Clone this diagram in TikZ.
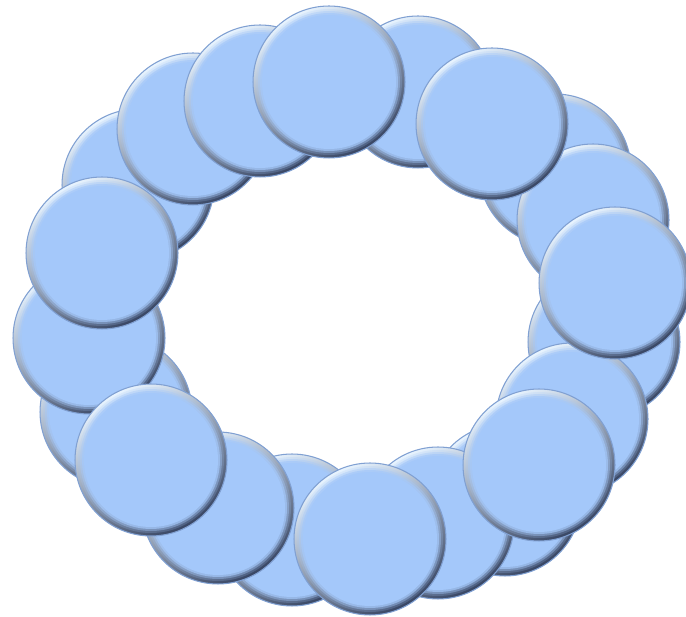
\documentclass[tikz,border=0pt]{standalone}
\usepackage{tikz}
\definecolor{beadface}{RGB}{164,200,250}
\definecolor{beadlight}{RGB}{232,244,255}
\definecolor{beadside}{RGB}{140,176,228}
\definecolor{beaddark}{RGB}{56,70,100}
\definecolor{beadedge}{RGB}{128,160,210}
\begin{document}
\begin{tikzpicture}[
    x=0.02cm, y=-0.02cm,
    bead/.style={circle, minimum size=3.04cm, inner sep=0pt,
      top color=beadlight, middle color=beadside, bottom color=beaddark,
      shading angle=30, draw=beadedge, line width=0.6pt,
      path picture={
        \fill[beadface, opacity=0.2] (path picture bounding box.center) circle (1.46cm);
        \fill[beadface, opacity=0.4] (path picture bounding box.center) circle (1.42cm);
        \fill[beadface, opacity=0.7] (path picture bounding box.center) circle (1.38cm);
        \fill[beadface] (path picture bounding box.center) circle (1.34cm);
      }},
  ]
  \useasboundingbox (0,0) rectangle (686,617);
  % ---------------- back beads
  \foreach \n/\x/\y in {b2/418/92, b4/555/170, b7/604/342, b10/505/500,
                        b13/292/530, b16/116/412, b19/138/185}
    { \node[bead] (\n) at (\x,\y) {}; }
  % ---------------- middle beads
  \foreach \n/\x/\y in {b5/593/220, b8/572/419, b11/438/523, b14/218/508,
                        b17/89/338, b20/193/129}
    { \node[bead] (\n) at (\x,\y) {}; }
  \node[bead] (b21) at (260,101) {};
  % ---------------- front beads
  \foreach \n/\x/\y in {b1/329/82, b3/492/124, b6/615/283, b9/539/465,
                        b12/370/539, b15/151/460, b18/102/253}
    { \node[bead] (\n) at (\x,\y) {}; }
\end{tikzpicture}
\end{document}
